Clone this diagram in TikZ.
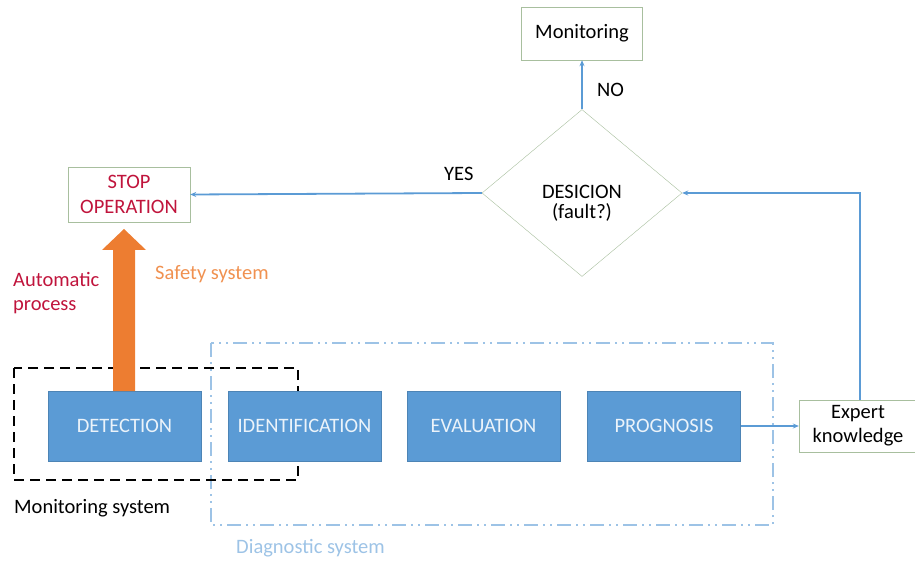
\documentclass[tikz,border=0pt]{standalone}
\usepackage{fontspec}
\setmainfont{Carlito}
\usetikzlibrary{shapes.geometric,arrows.meta}
\definecolor{bbox}{HTML}{5B9BD5}
\definecolor{gborder}{HTML}{A8BF9E}
\definecolor{orng}{HTML}{ED7D31}
\definecolor{redt}{HTML}{C0143C}
\definecolor{diag}{HTML}{9DC3E6}
\tikzset{
  bluebox/.style={draw=bbox!85!black, fill=bbox, text=white!88!bbox, minimum width=153pt, minimum height=70pt, inner sep=0pt, font=\fontsize{20.5}{24}\selectfont},
  wbox/.style={draw=gborder, fill=white, inner sep=0pt, font=\fontsize{20.5}{24}\selectfont, align=center},
  conn/.style={draw=bbox, line width=1.8pt, -{Stealth[length=6pt,width=5pt]}},
  lbl/.style={font=\fontsize{20.5}{24}\selectfont, inner sep=0pt}
}
\begin{document}
\begin{tikzpicture}[x=1pt,y=-1pt]
\useasboundingbox (0,0) rectangle (915,561);
% diagnostic box
\draw[diag, line width=1.6pt, dash pattern=on 14pt off 5pt on 2pt off 5pt on 2pt off 5pt] (211,343) rectangle (773,525);
% monitoring dashed box
\draw[black, line width=2pt, dash pattern=on 10pt off 6pt] (14,368) rectangle (298,480);
% blue boxes
\node[bluebox] (det) at (124.5,426) {DETECTION};
\node[bluebox] (ide) at (304.5,426) {IDENTIFICATION};
\node[bluebox] (eva) at (483.5,426) {EVALUATION};
\node[bluebox] (pro) at (664,426) {PROGNOSIS};
% expert
\node[wbox, minimum width=118pt, minimum height=52pt] (exp) at (858,426) {Expert\\knowledge};
% diamond
\node[draw=gborder, fill=white, diamond, minimum width=200pt, minimum height=167pt, inner sep=0pt] (dec) at (582,193) {};
\node[lbl, align=center, font=\fontsize{20.5}{20}\selectfont] (dectxt) at (582,203) {DESICION\\(fault?)};
% monitoring
\node[wbox, minimum width=121pt, minimum height=53pt] (mon) at (582,33.5) {Monitoring};
% stop
\node[wbox, minimum width=122pt, minimum height=55pt, text=redt, font=\fontsize{20.5}{25}\selectfont] (stop) at (129,194.5) {STOP\\OPERATION};
% connectors
\draw[conn] (pro.east) -- (exp.west);
\coordinate (c1) at (860,193);
\draw[conn] (exp.north -| c1) -- (c1) -- (dec.east);
\draw[conn] (dec.north) -- (mon.south);
\draw[conn] (dec.west) -- (stop.east);
% orange arrow
\fill[orng] (113,391) -- (113,250) -- (102,250) -- (124,229) -- (146,250) -- (135,250) -- (135,391) -- cycle;
% labels
\node[lbl, anchor=west] (no) at (597,90) {NO};
\node[lbl, anchor=west] (yes) at (444,174) {YES};
\node[lbl, anchor=west, text=redt, align=left] (auto) at (13,293) {Automatic\\process};
\node[lbl, anchor=west, text=orng!85!white] (safe) at (155,274) {Safety system};
\node[lbl, anchor=west] (msys) at (14,508) {Monitoring system};
\node[lbl, anchor=west, text=diag] (dsys) at (236,548) {Diagnostic system};
\end{tikzpicture}
\end{document}
